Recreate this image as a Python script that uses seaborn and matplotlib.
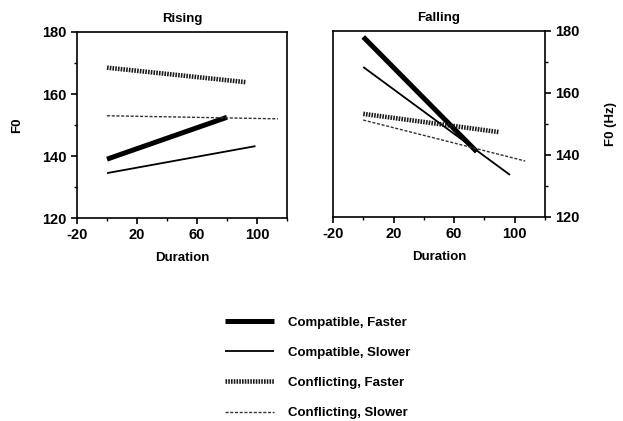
import pandas as pd
import matplotlib.pyplot as plt
import seaborn as sns
from matplotlib.lines import Line2D
from matplotlib.ticker import MultipleLocator

sns.set_style('ticks')
plt.rcParams['font.family'] = ['Liberation Sans', 'DejaVu Sans']
plt.rcParams['font.weight'] = 'bold'
plt.rcParams['axes.unicode_minus'] = False
plt.rcParams['text.color'] = 'black'
plt.rcParams['axes.labelcolor'] = 'black'
plt.rcParams['xtick.color'] = 'black'
plt.rcParams['ytick.color'] = 'black'
plt.rcParams['axes.edgecolor'] = 'black'

# 데이터 (시작점, 끝점)
conditions = ['Compatible, Faster', 'Compatible, Slower', 'Conflicting, Faster', 'Conflicting, Slower']
rising_x = [[0, 80], [0, 99], [0, 93], [0, 114]]
rising_y = [[139, 152.5], [134.5, 143.2], [168.5, 163.8], [153, 152]]
falling_x = [[0, 75], [0, 97], [0, 90], [0, 107]]
falling_y = [[178, 141], [168.3, 133.5], [153.2, 147.3], [151.2, 138]]

styles = {
    'Compatible, Faster': dict(lw=3.6, ls='-', color='black'),
    'Compatible, Slower': dict(lw=1.3, ls='-', color='black'),
    'Conflicting, Faster': dict(lw=3.3, ls=(0, (0.35, 0.25)), color='#1a1a1a'),
    'Conflicting, Slower': dict(lw=1.0, ls=(0, (2.2, 1.2)), color='#333333'),
}

fig = plt.figure(figsize=(6.23, 4.21), dpi=100)
ax1 = fig.add_axes([0.1236, 0.482, 0.337, 0.442])
ax2 = fig.add_axes([0.5345, 0.485, 0.340, 0.442])

for ax, xs, ys, title in [(ax1, rising_x, rising_y, 'Rising'), (ax2, falling_x, falling_y, 'Falling')]:
    for name, x, y in zip(conditions, xs, ys):
        st = styles[name]
        sns.lineplot(x=x, y=y, ax=ax, color=st['color'], linewidth=st['lw'],
                     linestyle=st['ls'], solid_capstyle='butt', dash_capstyle='butt')
    ax.set_xlim(-20, 120)
    ax.set_ylim(120, 180)
    ax.set_xticks([-20, 20, 60, 100])
    ax.set_yticks([120, 140, 160, 180])
    ax.xaxis.set_minor_locator(MultipleLocator(20))
    ax.yaxis.set_minor_locator(MultipleLocator(10))
    ax.tick_params(which='major', direction='out', length=4, width=1.2, labelsize=10.5)
    ax.tick_params(which='minor', direction='out', length=2, width=1)
    for sp in ax.spines.values():
        sp.set_visible(True)
        sp.set_linewidth(1.2)
    ax.set_title(title, fontsize=9.5, fontweight='bold', pad=7)
    ax.set_xlabel('Duration', fontsize=9.5, fontweight='bold', labelpad=7)

ax1.set_ylabel('F0', fontsize=9.5, fontweight='bold', labelpad=14)
ax2.yaxis.tick_right()
ax2.yaxis.set_label_position('right')
ax2.tick_params(axis='y', which='both', left=False, right=True)
ax2.set_ylabel('F0 (Hz)', fontsize=9.5, fontweight='bold', labelpad=18)

handles = [Line2D([], [], color=styles[c]['color'], linewidth=styles[c]['lw'],
                  linestyle=styles[c]['ls'], solid_capstyle='butt') for c in conditions]
fig.legend(handles, conditions, loc='center', bbox_to_anchor=(0.51, 0.126),
           frameon=False, fontsize=9.5, handlelength=3.7, handletextpad=1.1,
           labelspacing=1.35)

plt.savefig('out.png', dpi=100)
